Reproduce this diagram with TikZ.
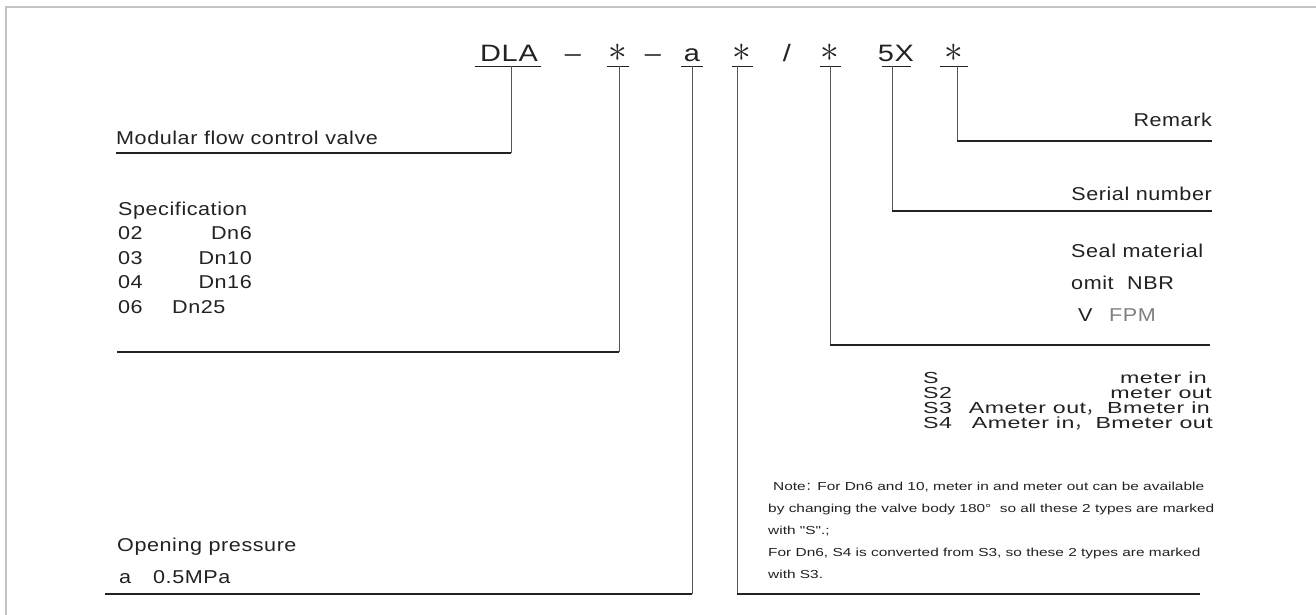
\documentclass[tikz,border=0pt]{standalone}
\usepackage{fontspec}
\setmainfont{Liberation Sans}
\newfontfamily\lblf[LetterSpace=3,FakeStretch=1.16]{Liberation Sans}
\newfontfamily\codef[LetterSpace=3,FakeStretch=1.22]{Liberation Sans}
\newfontfamily\srowf[LetterSpace=3,FakeStretch=1.45]{Liberation Sans}
\newfontfamily\notef[FakeStretch=1.33]{Liberation Sans}
\newfontfamily\cjk{Noto Sans CJK SC}
\usetikzlibrary{calc}
\definecolor{ink}{HTML}{222222}
\definecolor{lgray}{HTML}{555555}
\definecolor{framegray}{HTML}{C4C4C4}
\tikzset{
  code/.style={font=\fontsize{23.7}{24}\selectfont\codef, text=ink, anchor=base, inner sep=0pt},
  lbl/.style={font=\fontsize{18.6}{19}\selectfont\lblf, text=ink, inner sep=0pt},
  srow/.style={font=\fontsize{16}{16}\selectfont\srowf, text=ink, inner sep=0pt},
  note/.style={font=\fontsize{11.6}{12}\selectfont\notef, text=ink, inner sep=0pt, anchor=base west},
  uline/.style={draw=ink, line width=1.1pt},
  conn/.style={draw=lgray, line width=1pt},
  hline/.style={draw=ink, line width=1.3pt},
}
\begin{document}
\begin{tikzpicture}[x=1pt,y=-1pt]
\useasboundingbox (0,0) rectangle (1316,615);
\fill[white] (0,0) rectangle (1316,615);
\draw[framegray, line width=2pt] (6,615) -- (6,7) -- (1316,7);

% code tokens
\node[code] (dla) at (509,62) {DLA};
\node[code] (d1) at (573,62) {–};
\node[code] (s1) at (618,62) {\scalebox{1.5}{$\ast$}};
\node[code] (d2) at (653,62) {–};
\node[code] (ta) at (692,62) {a};
\node[code] (s2) at (742,62) {\scalebox{1.5}{$\ast$}};
\node[code] (sl) at (787,62) {/};
\node[code] (s3) at (830,62) {\scalebox{1.5}{$\ast$}};
\node[code] (t5x) at (896,62) {5X};
\node[code] (s4) at (954,62) {\scalebox{1.5}{$\ast$}};

% underlines
\draw[uline] (475,66.5) -- (541,66.5);
\draw[uline] (607,66.5) -- (629,66.5);
\draw[uline] (681,66.5) -- (703,66.5);
\draw[uline] (732,66.5) -- (753,66.5);
\draw[uline] (820,66.5) -- (841,66.5);
\draw[uline] (882,66.5) -- (911,66.5);
\draw[uline] (940,66.5) -- (968,66.5);

\coordinate (u1) at (511,66.5);
\coordinate (u2) at (619,66.5);
\coordinate (u3) at (692,66.5);
\coordinate (u4) at (737,66.5);
\coordinate (u5) at (830,66.5);
\coordinate (u6) at (892,66.5);
\coordinate (u7) at (957,66.5);

% line ends
\coordinate (e1) at (116,153);
\coordinate (e2) at (117,352);
\coordinate (e3) at (105,594);
\coordinate (e4) at (1200,594);
\coordinate (e5) at (1210,345);
\coordinate (e6) at (1212,211);
\coordinate (e7) at (1212,141);

% connectors (vertical part then horizontal)
\foreach \i in {1,...,7}{
  \draw[conn] (u\i) -- (u\i |- e\i);
  \draw[hline] (u\i |- e\i) -- (e\i);
}

% left labels
\node[lbl, anchor=base west] (mod) at (116,144) {Modular flow control valve};
\node[lbl, anchor=base west] (spec) at (118,215) {Specification};
\node[lbl, anchor=base west] (c02) at (118,239.5) {02};
\node[lbl, anchor=base east] (dn6) at (252,239.5) {Dn6};
\node[lbl, anchor=base west] (c03) at (118,264) {03};
\node[lbl, anchor=base east] (dn10) at (252,264) {Dn10};
\node[lbl, anchor=base west] (c04) at (118,288.5) {04};
\node[lbl, anchor=base east] (dn16) at (252,288.5) {Dn16};
\node[lbl, anchor=base west] (c06) at (118,313) {06};
\node[lbl, anchor=base west] (dn25) at (172,313) {Dn25};
\node[lbl, anchor=base west] (op) at (117,551) {Opening pressure};
\node[lbl, anchor=base west] (pa) at (119,583) {a};
\node[lbl, anchor=base west] (pv) at (153,583) {0.5MPa};

% right labels
\node[lbl, anchor=base east] (rem) at (1212,126) {Remark};
\node[lbl, anchor=base east] (ser) at (1212,200) {Serial number};
\node[lbl, anchor=base west] (seal) at (1071,257) {Seal material};
\node[lbl, anchor=base west] (omit) at (1071,289) {omit};
\node[lbl, anchor=base west] (nbr) at (1127,289) {NBR};
\node[lbl, anchor=base west] (sv) at (1078,321) {V};
\node[lbl, anchor=base west, text=black!50] (fpm) at (1109,321) {FPM};

% S rows
\node[srow, anchor=base west] (sa) at (923,383) {S};
\node[srow, anchor=base east] (sai) at (1207,383) {meter in};
\node[srow, anchor=base west] (sb) at (923,398) {S2};
\node[srow, anchor=base east] (sbi) at (1212,398) {meter out};
\node[srow, anchor=base west] (sc) at (923,413) {S3};
\node[srow, anchor=base east] (sci) at (1210,413) {Ameter out{\cjk ，}\hspace{5pt}Bmeter in};
\node[srow, anchor=base west] (sd) at (923,428) {S4};
\node[srow, anchor=base east] (sdi) at (1213,428) {Ameter in{\cjk ，}\hspace{5pt}Bmeter out};

% note
\node[note] (n1) at (773,490) {Note{\cjk ：}For Dn6 and 10, meter in and meter out can be available};
\node[note] (n2) at (768,512) {by changing the valve body 180°\ \ so all these 2 types are marked};
\node[note] (n3) at (768,534) {with "S".;};
\node[note] (n4) at (768,556) {For Dn6, S4 is converted from S3, so these 2 types are marked};
\node[note] (n5) at (768,578) {with S3.};
\end{tikzpicture}
\end{document}
